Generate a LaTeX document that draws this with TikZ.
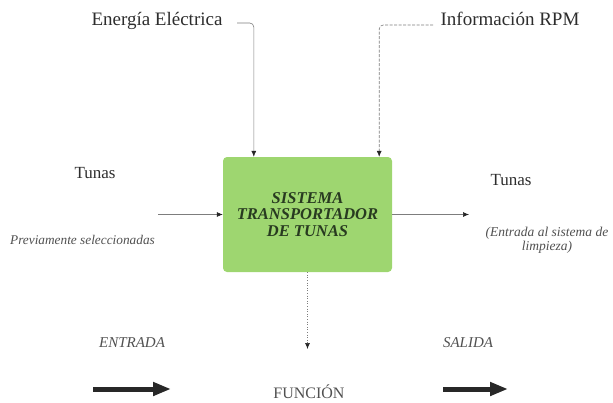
\documentclass[tikz,border=0pt]{standalone}
\usepackage{fontspec}
\setmainfont{Liberation Serif}
\usetikzlibrary{arrows.meta}
\definecolor{boxgreen}{RGB}{158,214,112}
\definecolor{txt}{RGB}{45,45,45}
\definecolor{itxt}{RGB}{80,80,80}
\definecolor{lin}{RGB}{125,125,125}
\definecolor{boxtxt}{RGB}{40,58,32}
\definecolor{thick}{RGB}{40,40,40}
\newcommand{\fsz}[1]{\fontsize{#1}{#1}\selectfont}
\begin{document}
\begin{tikzpicture}[x=1pt,y=-1pt,
  lbl/.style={text=txt, inner sep=0pt},
  ilbl/.style={text=itxt, inner sep=0pt},
  sysbox/.style={fill=boxgreen, rounded corners=4pt, minimum width=169pt,
    minimum height=115pt, inner sep=0pt, align=center, text=boxtxt,
    font=\bfseries\itshape\fontsize{16.5}{16.5}\selectfont},
  flow/.style={draw=lin, line width=0.6pt, -{Latex[length=6pt,width=5pt,color=black!85]}},
  ctrl/.style={flow, rounded corners=4pt},
  ctrldash/.style={ctrl, dash pattern=on 3pt off 1.5pt},
  mech/.style={flow, dotted},
  bigarrow/.style={draw=thick, line width=5pt, -{Triangle[length=18pt,width=13pt]}}
]
\useasboundingbox (0,0) rectangle (613,402);

% main box
\node[sysbox] (sys) at (307.5,214.5) {SISTEMA\\TRANSPORTADOR\\DE TUNAS};

% top labels
\node[lbl, font=\fsz{19}, anchor=base] (ee) at (157,25) {Energía Eléctrica};
\node[lbl, font=\fsz{19}, anchor=base] (rpm) at (510,25) {Información RPM};

\coordinate (e1) at (237,23);
\coordinate (r1) at (433,25);
\draw[ctrl] (e1) -| ([xshift=31pt]sys.north west);
\draw[ctrldash] (r1) -| ([xshift=-13pt]sys.north east);

% left input
\node[lbl, font=\fsz{17}] (tin) at (95,173) {Tunas};
\node[ilbl, font=\itshape\fsz{13.3}] (prev) at (82.5,240) {Previamente seleccionadas};
\coordinate (in1) at (158,214.5);
\draw[flow] (in1) -- (sys.west);

% right output
\node[lbl, font=\fsz{17}] (tout) at (511,180) {Tunas};
\node[ilbl, font=\itshape\fsz{13.5}, align=center] (dest) at (547,240)
  {(Entrada al sistema de\\limpieza)};
\coordinate (out1) at (469,214.5);
\draw[flow] (sys.east) -- (out1);

% mechanism
\coordinate (m1) at (307.5,349);
\draw[mech] (sys.south) -- (m1);

% bottom legend
\node[ilbl, font=\itshape\fsz{15}] (ent) at (132,343) {ENTRADA};
\node[ilbl, font=\itshape\fsz{15}] (sal) at (468,343) {SALIDA};
\node[lbl, font=\fsz{16}, text=itxt] (fun) at (309,392) {FUNCIÓN};

\coordinate (a1) at (93,389);
\coordinate (a2) at (171,389);
\coordinate (b1) at (443,389);
\coordinate (b2) at (508,389);
\draw[bigarrow] (a1) -- (a2);
\draw[bigarrow] (b1) -- (b2);
\end{tikzpicture}
\end{document}
